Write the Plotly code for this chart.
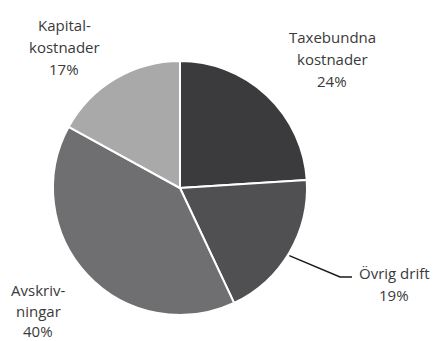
import math
import plotly.graph_objects as go

# ---- data ----
categories = ["Taxebundna kostnader", "Övrig drift", "Avskrivningar", "Kapitalkostnader"]
values = [24, 19, 40, 17]
label_lines = [
    ["Taxebundna", "kostnader", "24%"],
    ["Övrig drift", "19%"],
    ["Avskriv-", "ningar", "40%"],
    ["Kapital-", "kostnader", "17%"],
]
colors = ["#3b3b3d", "#505052", "#6f6f71", "#a9a9a9"]

# ---- layout geometry (pixels) ----
W, H = 435, 341
cx, cy, r = 180, 188, 127
label_pos = [(332, 37), (394, 273), (38, 290), (64, 25)]
line_gaps = [22, 22, 20.5, 22]

fig = go.Figure(go.Pie(
    labels=categories,
    values=values,
    sort=False,
    direction="clockwise",
    rotation=0,
    textinfo="none",
    hoverinfo="label+percent",
    marker=dict(colors=colors, line=dict(color="white", width=2)),
    domain=dict(x=[(cx - r) / W, (cx + r) / W],
                y=[(H - cy - r) / H, (H - cy + r) / H]),
    showlegend=False,
))

annotations = []
for (lx, ly), gap, lines in zip(label_pos, line_gaps, label_lines):
    for i, t in enumerate(lines):
        annotations.append(dict(
            text=t, x=lx / W, y=1 - (ly + i * gap) / H,
            xref="paper", yref="paper", showarrow=False,
            xanchor="center", yanchor="middle",
            font=dict(family="Open Sans", size=15, color="#3a3a3a"),
        ))

# leader line for "Övrig drift" from the slice midpoint on the rim
total = sum(values)
start = values[0] / total * 360
mid = math.radians(start + values[1] / total * 360 / 2)
px = cx + r * math.sin(mid)
py = cy - r * math.cos(mid)
pts = [(px, py + 3), (340, 277), (352, 277)]
path = "M " + " L ".join(f"{x / W},{1 - y / H}" for x, y in pts)
fig.add_shape(type="path", path=path, xref="paper", yref="paper",
              line=dict(color="#1a1a1a", width=1.5))

fig.update_layout(
    width=W, height=H,
    margin=dict(l=0, r=0, t=0, b=0),
    paper_bgcolor="white", plot_bgcolor="white",
    annotations=annotations,
)

fig.write_html("out.html")
